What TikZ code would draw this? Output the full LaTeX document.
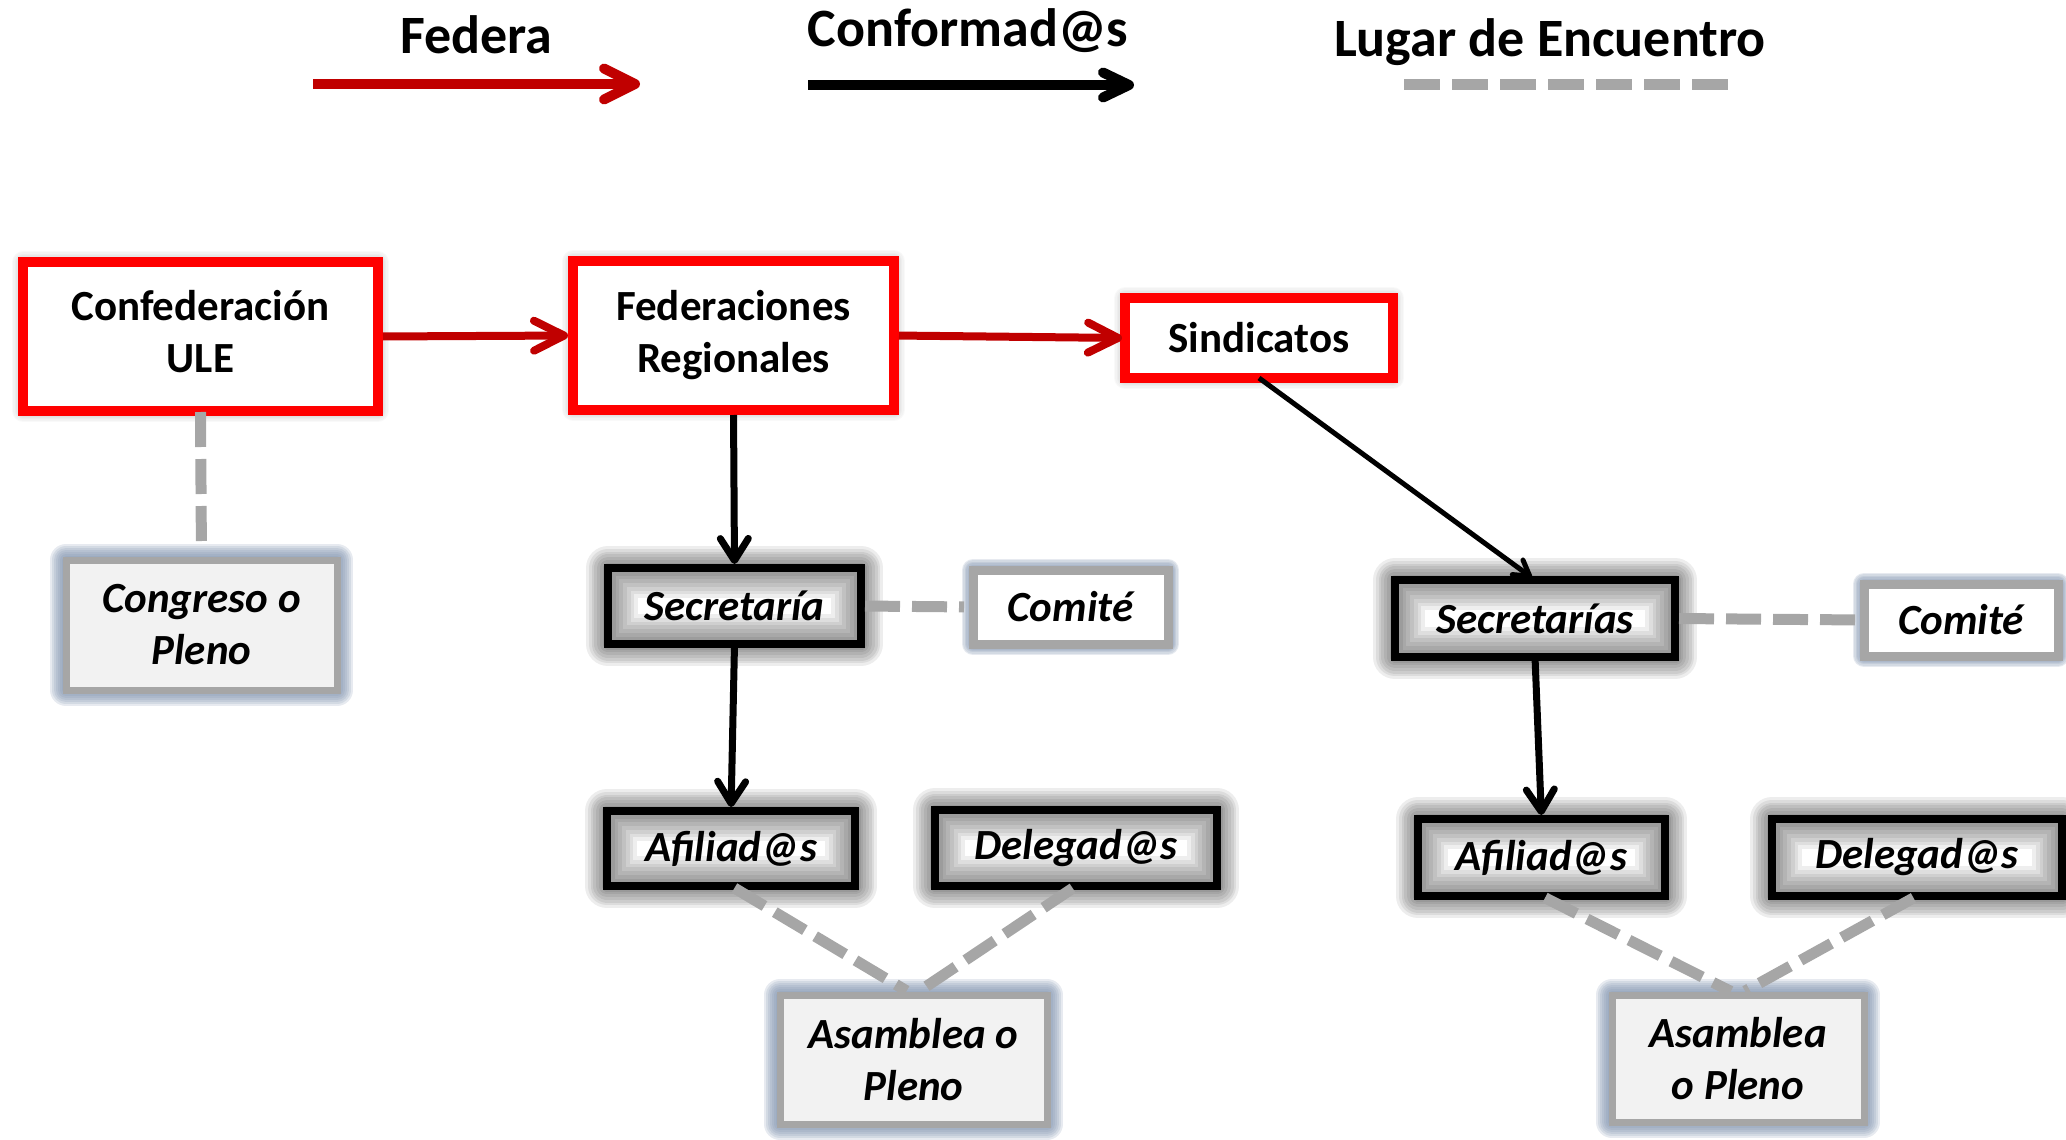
\documentclass[tikz,border=0pt]{standalone}
\usepackage{fontspec}
\setmainfont{Carlito}
\usetikzlibrary{arrows.meta,backgrounds}
\definecolor{boxred}{HTML}{FF0000}
\definecolor{arrred}{HTML}{C00000}
\definecolor{dgray}{HTML}{A6A6A6}
\definecolor{lgray}{HTML}{F2F2F2}
\definecolor{blueglow}{HTML}{7F92AE}

\newcommand\myouterglow[4]{%
  \foreach \k in {1,...,8}{%
    \pgfmathsetmacro\lw{#3*\k/8}%
    \draw[draw=#2, line width=\lw pt, opacity=#4, line join=round] (#1.south west) rectangle (#1.north east);
  }%
}
\newcommand\myinnerglow[1]{%
  \begin{scope}
    \clip (#1.south west) rectangle (#1.north east);
    \fill[white] (#1.south west) rectangle (#1.north east);
    \foreach \k in {1,...,8}{%
      \pgfmathsetmacro\lw{60*\k/8}%
      \draw[black, line width=\lw pt, opacity=0.065] (#1.south west) rectangle (#1.north east);
    }%
  \end{scope}
}

\tikzset{
  base/.style={rectangle, inner sep=0pt, outer sep=0pt, align=center, text=black,
    font=\fontsize{43}{52}\selectfont\bfseries},
  redbox/.style={base, draw=boxred, line width=10pt, fill=white},
  blackbox/.style={base, draw=black, line width=8pt,
    font=\fontsize{43}{52}\selectfont\bfseries\itshape},
  graybox/.style={base, draw=dgray, line width=7pt, fill=lgray,
    font=\fontsize{43}{52}\selectfont\bfseries\itshape},
  comitebox/.style={base, draw=dgray, line width=9pt, fill=white,
    font=\fontsize{43}{52}\selectfont\bfseries\itshape},
  legendtext/.style={inner sep=0pt, outer sep=0pt, anchor=base, text=black,
    font=\fontsize{54}{60}\selectfont\bfseries},
  redarrow/.style={draw=arrred, line width=8pt,
    -{Straight Barb[length=30pt,width=30pt,round]}},
  redarrowlegend/.style={draw=arrred, line width=10pt,
    -{Straight Barb[length=31pt,width=31pt,round]}},
  blackarrowlegend/.style={draw=black, line width=10pt,
    -{Straight Barb[length=26pt,width=25pt,round]}},
  blackarrow/.style={draw=black, line width=7pt,
    -{Straight Barb[length=22pt,width=28pt,round]}},
  thinarrow/.style={draw=black, line width=5pt,
    -{Straight Barb[length=15pt,width=18pt,round]}},
  meetline/.style={draw=dgray, line width=11pt, dash pattern=on 35pt off 12pt},
}

\begin{document}
\begin{tikzpicture}[x=1pt,y=-1pt]
\useasboundingbox (0,0) rectangle (2066,1140);

% ---------- legend ----------
\node[legendtext] (tfed) at (476.5,53) {Federa};
\node[legendtext] (tconf) at (968,47) {Conformad@s};
\node[legendtext] (tlug) at (1550,57) {Lugar de Encuentro};
\coordinate (lf1) at (313,84);
\coordinate (lf2) at (640,84);
\coordinate (lc1) at (808,85);
\coordinate (lc2) at (1134,85);
\coordinate (ll1) at (1404,84.5);
\coordinate (ll2) at (1729,84.5);
\draw[redarrowlegend] (lf1) -- (lf2);
\draw[blackarrowlegend] (lc1) -- (lc2);
\draw[draw=dgray, line width=11pt, dash pattern=on 36pt off 12pt] (ll1) -- (ll2);

% ---------- nodes ----------
\node[redbox, minimum width=355pt, minimum height=149pt, text depth=11pt] (confed) at (200.5,336.5) {Confederación\\ULE};
\node[redbox, minimum width=321pt, minimum height=149pt] (fed) at (733.5,335.5) {Federaciones\\Regionales};
\node[redbox, minimum width=268pt, minimum height=80pt] (sind) at (1259,338) {Sindicatos};

\node[graybox, minimum width=271pt, minimum height=130pt] (congreso) at (201.5,625) {Congreso o\\Pleno};

\node[blackbox, minimum width=253pt, minimum height=76pt] (sec1) at (734.5,606) {Secretaría};
\node[comitebox, minimum width=195pt, minimum height=74pt] (comite1) at (1070.5,607) {Comité};
\node[blackbox, minimum width=280pt, minimum height=77pt] (sec2) at (1535,618.5) {Secretarías};
\node[comitebox, minimum width=194pt, minimum height=72pt] (comite2) at (1961,620) {Comité};

\node[blackbox, minimum width=248pt, minimum height=75pt] (afil1) at (731,848.5) {Afiliad@s};
\node[blackbox, minimum width=282pt, minimum height=76pt] (deleg1) at (1076,848) {Delegad@s};
\node[blackbox, minimum width=247pt, minimum height=77pt] (afil2) at (1541.5,857.5) {Afiliad@s};
\node[blackbox, minimum width=290pt, minimum height=77pt] (deleg2) at (1917,857.5) {Delegad@s};

\node[graybox, minimum width=267pt, minimum height=129pt] (asam1) at (913.5,1059.5) {Asamblea o\\Pleno};
\node[graybox, minimum width=252pt, minimum height=127pt] (asam2) at (1738,1058.5) {Asamblea\\o Pleno};

% ---------- glows ----------
\begin{scope}[on background layer]
  \foreach \n in {confed,fed,sind}{\myouterglow{\n}{black}{22}{0.025}}
  \foreach \n in {congreso,asam1,asam2}{\myouterglow{\n}{blueglow}{32}{0.19}}
  \foreach \n in {comite1,comite2}{\myouterglow{\n}{blueglow}{22}{0.19}}
  \foreach \n in {sec1,sec2,afil1,deleg1,afil2,deleg2}{%
    \myouterglow{\n}{black}{44}{0.07}%
    \myinnerglow{\n}%
  }
\end{scope}

% ---------- connectors ----------
\draw[redarrow, shorten <=5pt, shorten >=5pt] (confed.east) -- (fed.west);
\draw[redarrow, shorten <=5pt, shorten >=3pt] (fed.east) -- (sind.west);

\draw[blackarrow, shorten <=5pt, shorten >=4pt] (fed.south) -- (sec1.north);
\draw[blackarrow, shorten <=4pt, shorten >=4pt] (sec1.south) -- (afil1.north);
\draw[thinarrow, shorten <=0pt, shorten >=4pt] (sind.south) -- (sec2.north);
\draw[blackarrow, shorten <=4pt, shorten >=4pt] (sec2.south) -- (afil2.north);

\draw[meetline, shorten <=1pt, shorten >=17pt] (confed.south) -- (congreso.north);
\draw[meetline, shorten <=4pt, shorten >=9pt] (sec1.east) -- (comite1.west);
\draw[meetline, shorten <=4pt, shorten >=9pt] (sec2.east) -- (comite2.west);
\draw[meetline, shorten <=4pt, shorten >=8pt] (afil1.south) -- (asam1.north);
\draw[meetline, shorten <=4pt, shorten >=8pt] (deleg1.south) -- (asam1.north);
\draw[meetline, shorten <=4pt, shorten >=8pt] (afil2.south) -- (asam2.north);
\draw[meetline, shorten <=4pt, shorten >=8pt] (deleg2.south) -- (asam2.north);
\end{tikzpicture}
\end{document}
